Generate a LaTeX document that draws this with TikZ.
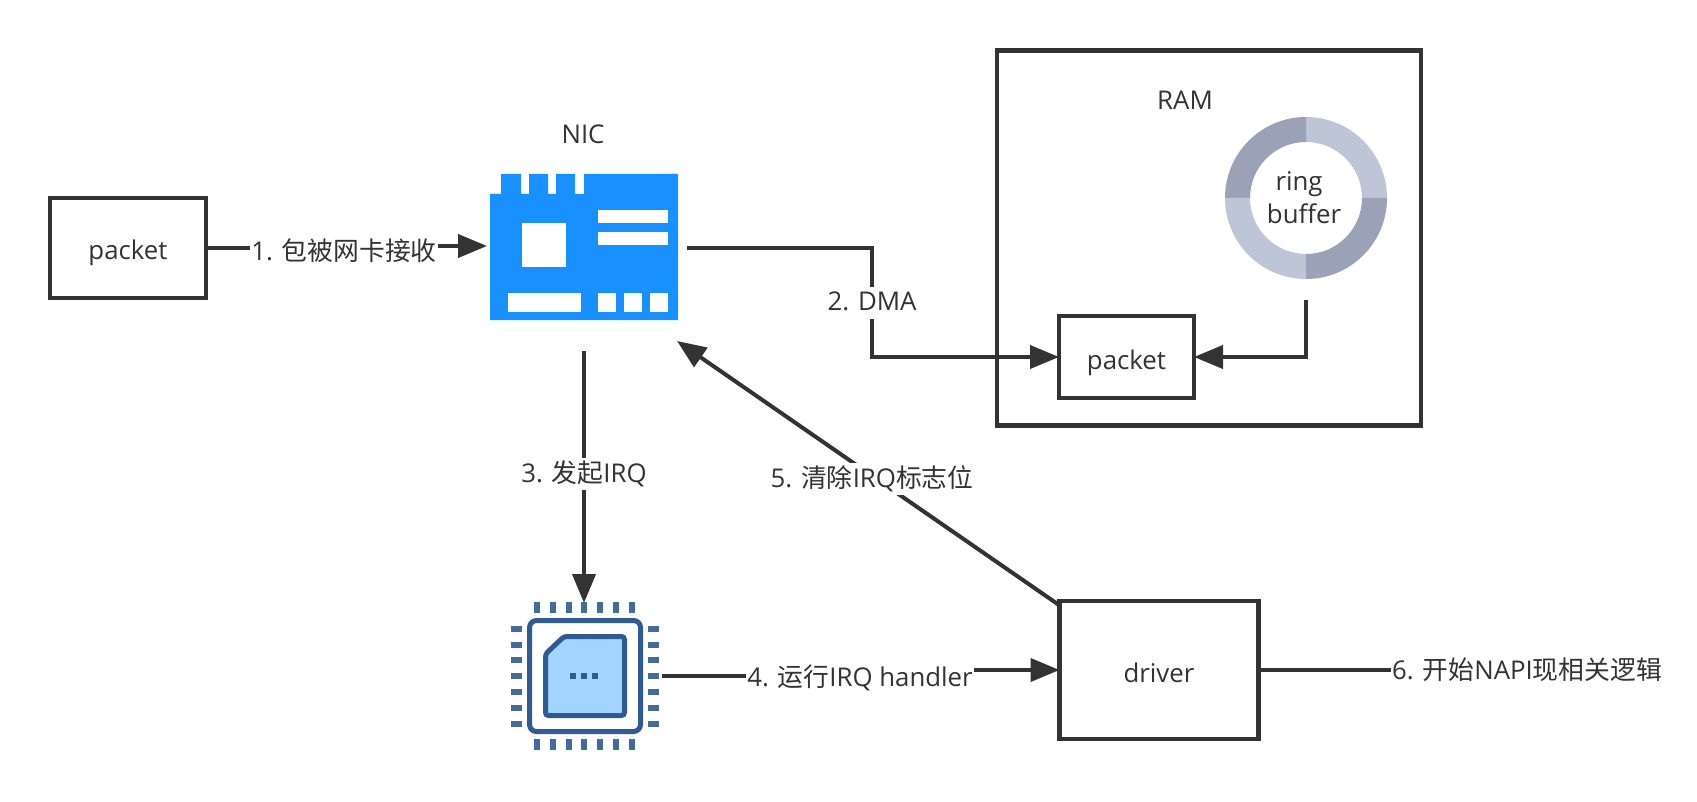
\documentclass[tikz,border=0pt]{standalone}
\usepackage{fontspec}
\setmainfont{Open Sans}
\newfontfamily\zhfont{Noto Sans CJK SC}
\newcommand{\zh}[1]{{\zhfont #1}}
\usetikzlibrary{arrows.meta}
\pgfdeclarelayer{back}
\pgfsetlayers{back,main}
\definecolor{ink}{HTML}{333333}
\definecolor{nicblue}{HTML}{1890FF}
\definecolor{chipblue}{HTML}{2F5B92}
\definecolor{chipfill}{HTML}{A3D3FF}
\definecolor{ringdark}{HTML}{9BA1B6}
\definecolor{ringlight}{HTML}{BEC5D6}
\tikzset{
  x=1pt,y=-1pt,
  every node/.style={font=\fontsize{25.8}{31}\selectfont,text=ink},
  boxnode/.style={draw=ink,line width=4.4pt,outer sep=0pt,inner sep=0pt,text height=24pt,text depth=0pt},
  plainlabel/.style={inner sep=0pt,text height=23pt,text depth=7pt},
  edgelabel/.style={fill=white,inner xsep=1pt,inner ysep=1pt,text height=23pt,text depth=7pt},
  holder/.style={inner sep=0pt,outer sep=0pt},
  conn/.style={draw=ink,line width=4pt},
  arrowconn/.style={conn,-{Triangle[length=29pt,width=23pt]}},
  pin/.style={draw=chipblue,line width=6pt,opacity=0.9},
  chipline/.style={draw=chipblue,line width=5pt,rounded corners=7pt},
  nicwhite/.style={fill=white},
}
\begin{document}
\begin{tikzpicture}
\path[use as bounding box] (0,0) rectangle (1697,802);
\begin{pgfonlayer}{back}
\fill[white] (0,0) rectangle (1697,802);
\end{pgfonlayer}

% boxes
\node[boxnode,minimum width=156pt,minimum height=100pt] (pkA) at (128,248) {packet};
\node[boxnode,minimum width=424pt,minimum height=375pt] (ram) at (1209,238) {};
\node[boxnode,minimum width=135pt,minimum height=82pt] (pkB) at (1126.5,357) {packet};
\node[boxnode,minimum width=199pt,minimum height=138pt] (drv) at (1159,670) {driver};

% NIC icon
\node[holder,minimum width=188pt,minimum height=146pt] (nic) at (584,247) {};
\fill[nicblue] (490,320) -- (490,194) -- (501,194) -- (501,174) -- (521,174) -- (521,194)
  -- (529,194) -- (529,174) -- (548,174) -- (548,194) -- (556,194) -- (556,174) -- (575,174)
  -- (575,194) -- (584,194) -- (584,174) -- (678,174) -- (678,320) -- cycle;
\fill[nicwhite] (522,223) rectangle (566,267);
\fill[nicwhite] (598,210) rectangle (668,223);
\fill[nicwhite] (598,232) rectangle (668,245);
\fill[nicwhite] (508,293) rectangle (581,312);
\fill[nicwhite] (598,293) rectangle (616,312);
\fill[nicwhite] (624,293) rectangle (642,312);
\fill[nicwhite] (650,293) rectangle (668,312);
\node[plainlabel] (nicT) at (583,136) {NIC};
\node[plainlabel] (ramT) at (1185,102) {RAM};

% ring buffer
\fill[ringlight] (1387,198) arc[start angle=0,end angle=90,radius=81pt] -- (1306,142) arc[start angle=90,end angle=0,radius=56pt] -- cycle;
\fill[ringdark] (1306,117) arc[start angle=90,end angle=180,radius=81pt] -- (1250,198) arc[start angle=180,end angle=90,radius=56pt] -- cycle;
\fill[ringlight] (1225,198) arc[start angle=180,end angle=270,radius=81pt] -- (1306,254) arc[start angle=270,end angle=180,radius=56pt] -- cycle;
\fill[ringdark] (1306,279) arc[start angle=270,end angle=360,radius=81pt] -- (1362,198) arc[start angle=360,end angle=270,radius=56pt] -- cycle;
\node[plainlabel] (ringA) at (1299,183) {ring};
\node[plainlabel] (ringB) at (1304,216) {buffer};

% chip icon
\node[holder,minimum width=148pt,minimum height=148pt] (chip) at (584.5,676) {};
\draw[chipline] (529.5,620.5) rectangle (640.5,731.5);
\draw[chipline,fill=chipfill,rounded corners=3pt] (545.5,654) -- (564,636.5) -- (624.5,636.5) -- (624.5,715.5) -- (545.5,715.5) -- cycle;
\foreach \px in {537.3,553,568.7,584.3,600.3,616,632} {
  \draw[pin] (\px,602) -- (\px,613);
  \draw[pin] (\px,739) -- (\px,750);
}
\foreach \py in {628.7,644.7,660.3,676.3,692,707.7,723.7} {
  \draw[pin] (511,\py) -- (522,\py);
  \draw[pin] (648,\py) -- (659,\py);
}
\foreach \px in {573.3,584.3,595} {
  \fill[chipblue] (\px-3,673) rectangle (\px+3,679);
}

% connector end points
\coordinate (nicIn) at (487,246);
\coordinate (nicOut) at (687,248);
\coordinate (nicDown) at (584,351);
\coordinate (nicBack) at (677,341);
\coordinate (ringOut) at (1306,300);
\coordinate (chipTop) at (584,603);
\coordinate (chipOut) at (662,676);
\coordinate (drvCorner) at (1059,605);

% connector labels
\node[edgelabel] (labA) at (344,253) {1. \zh{包被网卡接收}};
\node[edgelabel] (labB) at (872,303) {2. DMA};
\node[edgelabel] (labC) at (584,474) {3. \zh{发起}IRQ};
\node[edgelabel] (labD) at (860,678) {4. \zh{运行}IRQ handler};
\node[edgelabel] (labE) at (872,479) {5. \zh{清除}IRQ\zh{标志位}};
\node[edgelabel] (labF) at (1527,671) {6. \zh{开始}NAPI\zh{现相关逻辑}};

% connectors
\begin{pgfonlayer}{back}
\draw[arrowconn] (pkA.east) -| (labA.center) |- (nicIn);
\draw[arrowconn] (nicOut) -| (labB.center) |- (pkB.west);
\draw[arrowconn] (ringOut) |- (pkB.east);
\draw[arrowconn] (nicDown) -- (chipTop);
\draw[arrowconn] (chipOut) -| (labD.center) |- (drv.west);
\draw[arrowconn] (drvCorner) -- (nicBack);
\draw[conn] (drv.east) -- (drv.east -| labF.center);
\end{pgfonlayer}
\end{tikzpicture}
\end{document}
